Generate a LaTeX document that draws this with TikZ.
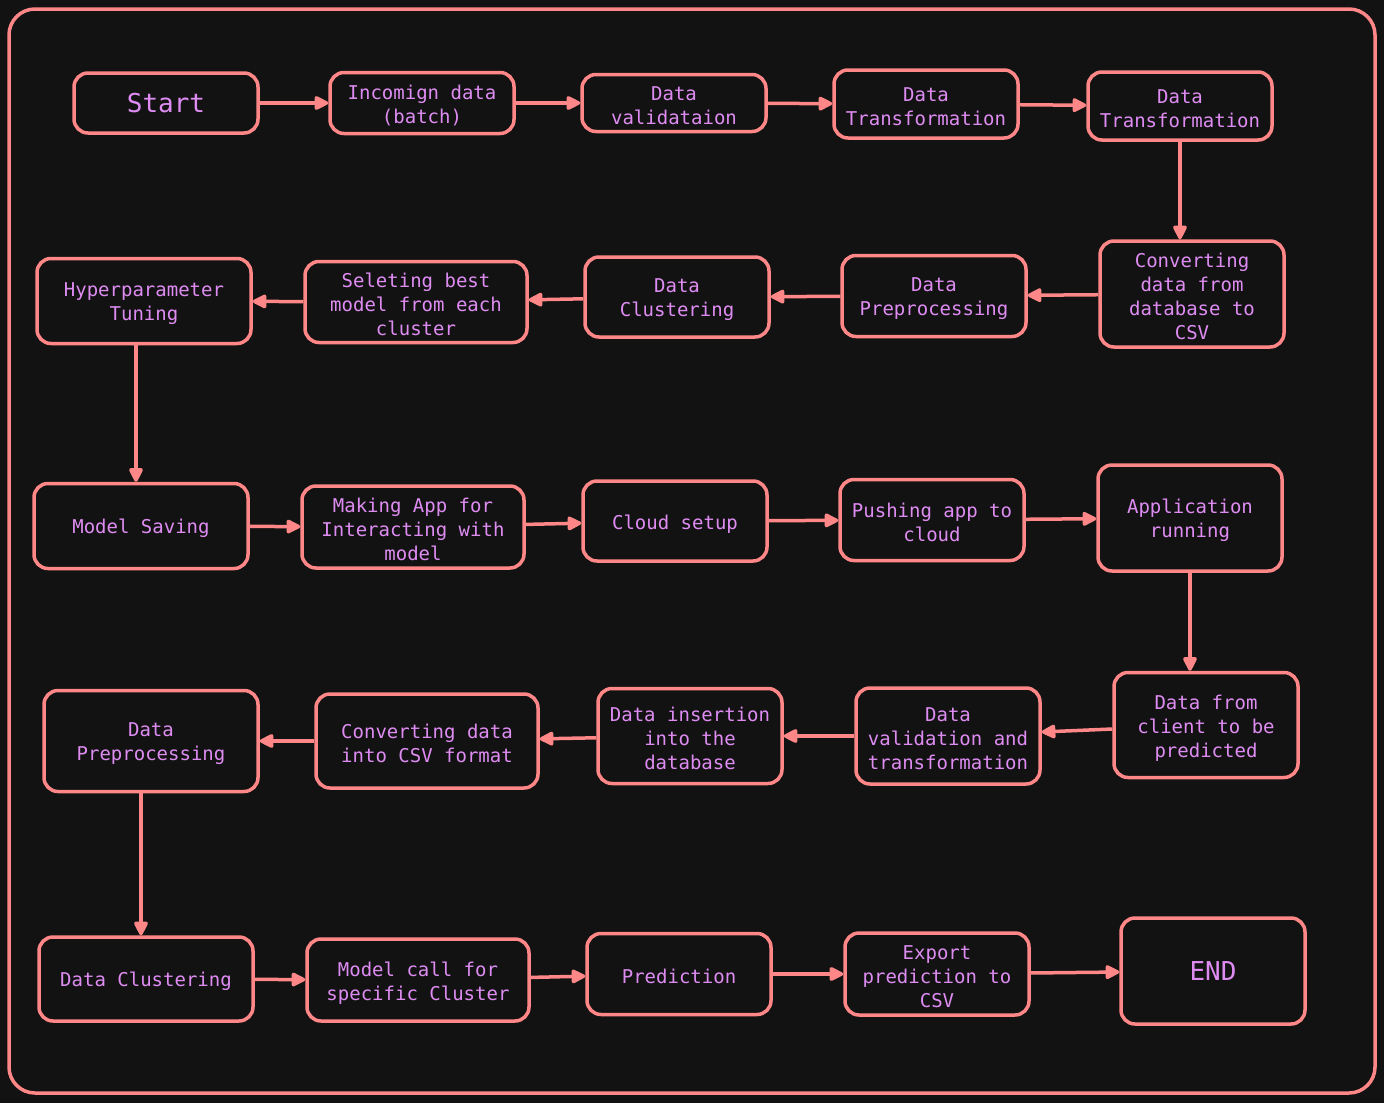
\documentclass[tikz,border=0pt]{standalone}
\usepackage{fontspec}
\newfontfamily\codefont{DejaVu Sans Mono}
\usetikzlibrary{arrows.meta,positioning}
\definecolor{flbg}{RGB}{18,18,18}
\definecolor{flred}{RGB}{255,135,135}
\definecolor{flviolet}{RGB}{222,140,242}
\newcommand\capstrut{\rule{0pt}{20pt}}

\begin{document}
\begin{tikzpicture}[
  x=1pt,y=-1pt,
  every node/.style={font=\codefont\fontsize{19}{24}\selectfont,text=flviolet},
  stepbox/.style={draw=flred,line width=3.5pt,rounded corners=14pt,align=center,inner sep=0pt,minimum width=184pt},
  bigbox/.style={stepbox,font=\codefont\fontsize{26}{30}\selectfont},
  flow/.style={-{Triangle[length=16pt,width=15pt,round]},draw=flred,line width=3.5pt}
]
\fill[flbg] (0,0) rectangle (1384,1103);
\draw[flred,line width=3.5pt,rounded corners=26pt] (9,9) rectangle (1375,1093);

% row 1
\node[bigbox,minimum height=60pt] (start) at (166,103) {Start};
\node[stepbox,minimum height=61pt] (inc) at (422,103) {\capstrut Incomign data\\(batch)};
\node[stepbox,minimum height=57pt] (val) at (674,103) {\capstrut Data\\validataion};
\node[stepbox,minimum height=68pt] (tra) at (926,104) {\capstrut Data\\Transformation};
\node[stepbox,minimum height=68pt] (trb) at (1180,106) {\capstrut Data\\Transformation};

% row 2
\node[stepbox,minimum height=106pt] (conv) at (1192,294) {\capstrut Converting\\data from\\database to\\CSV};
\node[stepbox,minimum height=81pt] (prep) at (934,296) {\capstrut Data\\Preprocessing};
\node[stepbox,minimum height=80pt] (clus) at (677,297) {\capstrut Data\\Clustering};
\node[stepbox,minimum width=222pt,minimum height=81pt] (best) at (416,302) {\capstrut Seleting best\\model from each\\cluster};
\node[stepbox,minimum width=214pt,minimum height=85pt] (hyp) at (144,301) {\capstrut Hyperparameter\\Tuning};

% row 3
\node[stepbox,minimum width=214pt,minimum height=85pt] (save) at (141,526) {\capstrut Model Saving};
\node[stepbox,minimum width=222pt,minimum height=82pt] (app) at (413,527) {\capstrut Making App for\\Interacting with\\model};
\node[stepbox,minimum height=80pt] (cloud) at (675,521) {\capstrut Cloud setup};
\node[stepbox,minimum height=81pt] (push) at (932,520) {\capstrut Pushing app to\\cloud};
\node[stepbox,minimum height=106pt] (run) at (1190,518) {\capstrut Application\\running};

% row 4
\node[stepbox,minimum height=105pt] (client) at (1206,725) {\capstrut Data from\\client to be\\predicted};
\node[stepbox,minimum height=96pt] (valtr) at (948,736) {\capstrut Data\\validation and\\transformation};
\node[stepbox,minimum height=95pt] (ins) at (690,736) {\capstrut Data insertion\\into the\\database};
\node[stepbox,minimum width=222pt,minimum height=94pt] (csv) at (427,741) {\capstrut Converting data\\into CSV format};
\node[stepbox,minimum width=214pt,minimum height=101pt] (prepb) at (151,741) {\capstrut Data\\Preprocessing};

% row 5
\node[stepbox,minimum width=214pt,minimum height=84pt] (clusb) at (146,979) {\capstrut Data Clustering};
\node[stepbox,minimum width=222pt,minimum height=82pt] (call) at (418,980) {\capstrut Model call for\\specific Cluster};
\node[stepbox,minimum height=81pt] (pred) at (679,974) {\capstrut Prediction};
\node[stepbox,minimum height=82pt] (exp) at (937,974) {\capstrut Export\\prediction to\\CSV};
\node[bigbox,minimum height=106pt] (end) at (1213,971) {END};

\draw[flow] (start) -- (inc);
\draw[flow] (inc) -- (val);
\draw[flow] (val) -- (tra);
\draw[flow] (tra) -- (trb);
\draw[flow] (trb.south) -- (trb.south |- conv.north);
\draw[flow] (conv) -- (prep);
\draw[flow] (prep) -- (clus);
\draw[flow] (clus) -- (best);
\draw[flow] (best) -- (hyp);
\draw[flow] ([xshift=-8pt]hyp.south) -- ([xshift=-8pt]hyp.south |- save.north);
\draw[flow] (save) -- (app);
\draw[flow] (app) -- (cloud);
\draw[flow] (cloud) -- (push);
\draw[flow] (push) -- (run);
\draw[flow] (run.south) -- (run.south |- client.north);
\draw[flow] (client) -- (valtr);
\draw[flow] (valtr) -- (ins);
\draw[flow] (ins) -- (csv);
\draw[flow] (csv) -- (prepb);
\draw[flow] ([xshift=-10pt]prepb.south) -- ([xshift=-10pt]prepb.south |- clusb.north);
\draw[flow] (clusb) -- (call);
\draw[flow] (call) -- (pred);
\draw[flow] (pred) -- (exp);
\draw[flow] (exp) -- (end);
\end{tikzpicture}
\end{document}
